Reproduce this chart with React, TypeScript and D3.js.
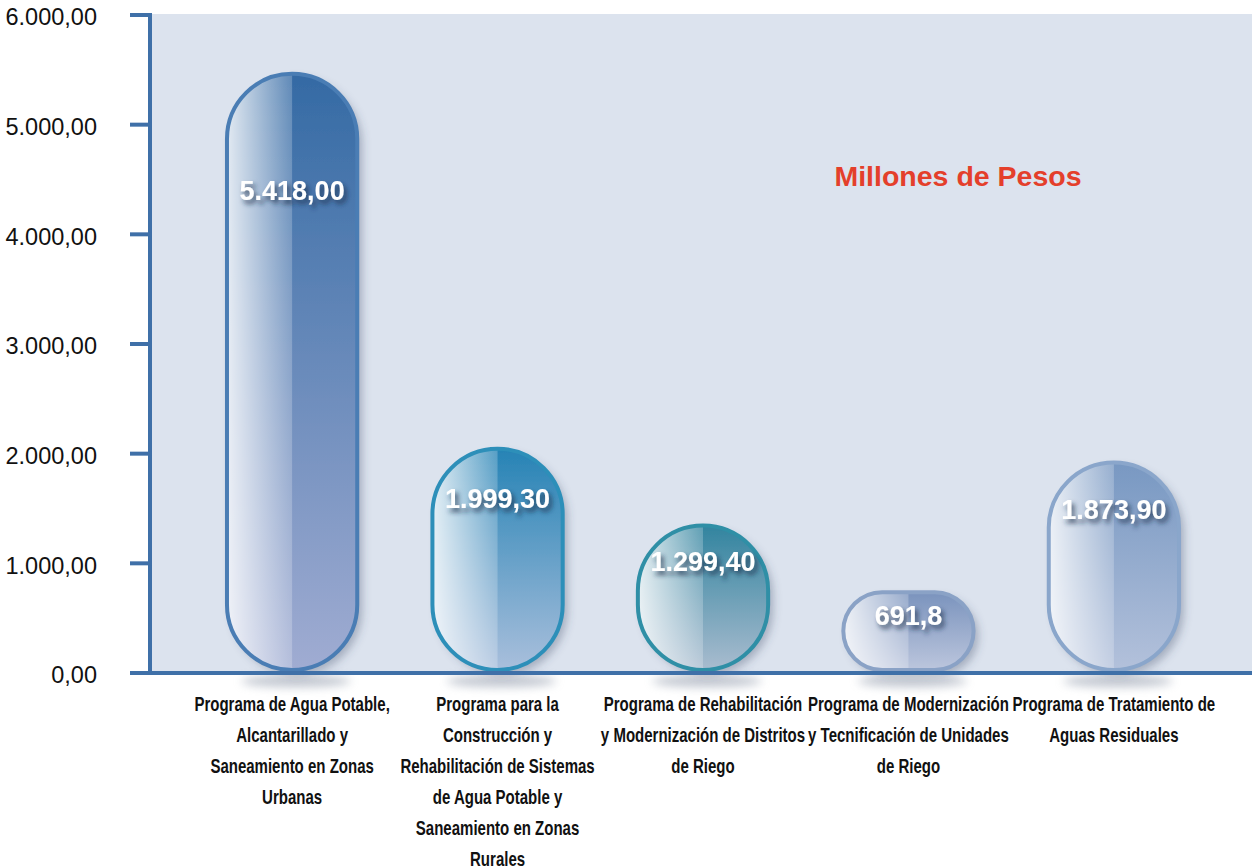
import React from 'react';
import * as d3 from 'd3';

const programs = [
  'agua-urbana',
  'agua-rural',
  'rehab-riego',
  'modern-riego',
  'tratamiento'
];
const values = [5418.0, 1999.3, 1299.4, 691.8, 1873.9];
const valueLabels = ['5.418,00', '1.999,30', '1.299,40', '691,8', '1.873,90'];
const categoryLines = [
  ['Programa de Agua Potable,', 'Alcantarillado y', 'Saneamiento en Zonas', 'Urbanas'],
  ['Programa para la', 'Construcción y', 'Rehabilitación de Sistemas', 'de Agua Potable y', 'Saneamiento en Zonas', 'Rurales'],
  ['Programa de Rehabilitación', 'y Modernización de Distritos', 'de Riego'],
  ['Programa de Modernización', 'y Tecnificación de Unidades', 'de Riego'],
  ['Programa de Tratamiento de', 'Aguas Residuales']
];
const yTicks = [0, 1000, 2000, 3000, 4000, 5000, 6000];
const unitTitle = 'Millones de Pesos';

// per-bar palette: stroke, top of fill, bottom of fill
const palette = [
  { stroke: '#4a7db4', top: '#346aa4', bottom: '#a0acd2' },
  { stroke: '#2d8fb9', top: '#2683b5', bottom: '#a9bfdc' },
  { stroke: '#2f8fa6', top: '#32849f', bottom: '#a9bccf' },
  { stroke: '#8aa2c6', top: '#7a93bd', bottom: '#bcc6dd' },
  { stroke: '#8aa6cb', top: '#7898c2', bottom: '#b3c1db' }
];

const W = 1252;
const H = 867;
const plotLeft = 152;
const plotTop = 14;
const plotBottom = 673;

const fmtTick = (v: number) =>
  d3.format(',.2f')(v).replace(/,/g, '#').replace('.', ',').replace(/#/g, '.');

export default function App() {
  const y = d3.scaleLinear().domain([0, 6000]).range([plotBottom, 15]);
  const x = d3.scaleBand<string>().domain(programs).range([190, 1216]).paddingInner(0.366).paddingOuter(0.18);
  const bw = x.bandwidth();
  const axisColor = '#3f70a8';

  return (
    <svg width={W} height={H} style={{ position: 'absolute', left: 0, top: 0, background: '#fff' }}
      fontFamily='"Liberation Sans", Arial, sans-serif'>
      <defs>
        <filter id="barShadow" x="-30%" y="-30%" width="170%" height="160%">
          <feDropShadow dx="5" dy="5" stdDeviation="4" floodColor="#3a4a66" floodOpacity="0.35" />
        </filter>
        <filter id="txtShadow" x="-20%" y="-40%" width="150%" height="200%">
          <feDropShadow dx="3" dy="4" stdDeviation="2.5" floodColor="#1d2d48" floodOpacity="0.75" />
        </filter>
        <filter id="blur6" x="-50%" y="-200%" width="200%" height="500%">
          <feGaussianBlur stdDeviation="5" />
        </filter>
        <linearGradient id="leftGloss" x1="0" x2="1" y1="0" y2="0">
          <stop offset="0" stopColor="#ffffff" stopOpacity="0.85" />
          <stop offset="1" stopColor="#ffffff" stopOpacity="0.22" />
        </linearGradient>
        {palette.map((p, i) => (
          <linearGradient key={i} id={`fill${i}`} x1="0" x2="0" y1="0" y2="1">
            <stop offset="0" stopColor={p.top} />
            <stop offset="1" stopColor={p.bottom} />
          </linearGradient>
        ))}
      </defs>

      <rect x={plotLeft} y={plotTop} width={W - plotLeft} height={plotBottom - plotTop} fill="#dce3ee" />

      <text x={958} y={178} textAnchor="middle" dominantBaseline="middle" fontSize={28.5}
        fontWeight="bold" fill="#e43f2b">{unitTitle}</text>

      {/* shadows below the axis */}
      {programs.map((p) => (
        <ellipse key={p} cx={(x(p) as number) + bw / 2 + 4} cy={plotBottom + 8} rx={bw * 0.42} ry={6}
          fill="#8c96a8" opacity={0.55} filter="url(#blur6)" />
      ))}

      {programs.map((p, i) => {
        const x0 = x(p) as number;
        const top = y(values[i]) - 5;
        const bottom = plotBottom - 3;
        const h = bottom - top;
        const r = Math.min(bw, h) / 2;
        const clipId = `clip${i}`;
        const labelY = top + 12 + h * 0.18;
        return (
          <g key={p}>
            <clipPath id={clipId}>
              <rect x={x0} y={top} width={bw} height={h} rx={r} ry={r} />
            </clipPath>
            <rect x={x0} y={top} width={bw} height={h} rx={r} ry={r} fill={`url(#fill${i})`}
              filter="url(#barShadow)" />
            <g clipPath={`url(#${clipId})`}>
              <rect x={x0} y={top} width={bw / 2} height={h} fill="url(#leftGloss)" />
            </g>
            <rect x={x0} y={top} width={bw} height={h} rx={r} ry={r} fill="none"
              stroke={palette[i].stroke} strokeWidth={4} />
            <text x={x0 + bw / 2} y={labelY} textAnchor="middle" dominantBaseline="middle"
              fontSize={27} fontWeight="bold" fill="#ffffff" filter="url(#txtShadow)">
              {valueLabels[i]}
            </text>
          </g>
        );
      })}

      {/* axes */}
      <line x1={plotLeft - 2} x2={plotLeft - 2} y1={plotTop} y2={plotBottom} stroke={axisColor} strokeWidth={4} />
      <line x1={130} x2={W} y1={plotBottom} y2={plotBottom} stroke={axisColor} strokeWidth={4} />
      {yTicks.map((t) => (
        <g key={t}>
          <line x1={130} x2={plotLeft} y1={y(t)} y2={y(t)} stroke={axisColor} strokeWidth={4} />
          <text x={97} y={y(t) + 4} textAnchor="end" dominantBaseline="middle" fontSize={23.5} fill="#111">
            {fmtTick(t)}
          </text>
        </g>
      ))}

      {/* category labels, condensed horizontally to mimic a narrow face */}
      {programs.map((p, i) => (
        <g key={p} transform={`translate(${(x(p) as number) + bw / 2},0) scale(0.77,1)`}>
          <text textAnchor="middle" fontSize={19.5} fontWeight="bold" fill="#111">
            {categoryLines[i].map((line, j) => (
              <tspan key={j} x={0} y={711 + j * 31}>{line}</tspan>
            ))}
          </text>
        </g>
      ))}
    </svg>
  );
}
